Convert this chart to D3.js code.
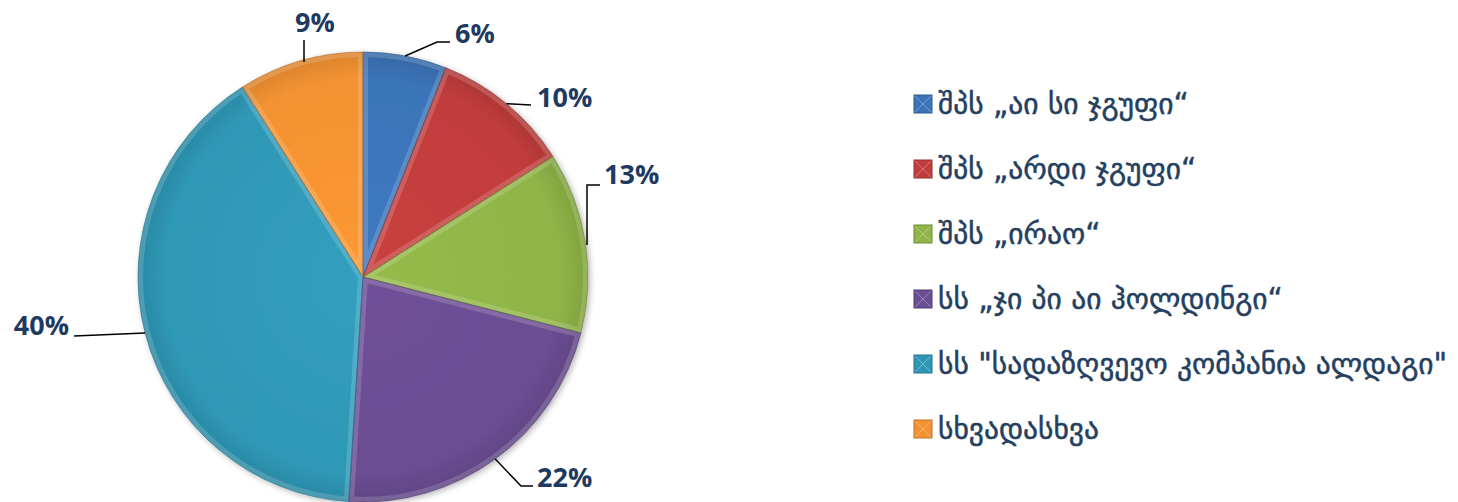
<!DOCTYPE html>
<html>
<head>
<meta charset="utf-8">
<script src="https://cdn.jsdelivr.net/npm/d3@7"></script>
<style>
  body { margin: 0; background: #fff; }
</style>
</head>
<body>
<div id="chart"></div>
<script>
// data
const categories = [
  "შპს „აი სი ჯგუფი“",
  "შპს „არდი ჯგუფი“",
  "შპს „ირაო“",
  "სს „ჯი პი აი ჰოლდინგი“",
  "სს \"სადაზღვევო კომპანია ალდაგი\"",
  "სხვადასხვა"
];
const shares = [6, 10, 13, 22, 40, 9];
const colors = ["#3b74b9", "#c13d3b", "#8fb447", "#6b4d93", "#2f98b6", "#f39232"];

// label placement (text position, elbow and line end), layout only
const labelLayout = [
  {tx: 455, ty: 43, anchor: "start", pts: [[437, 42], [450, 42]]},
  {tx: 537, ty: 107, anchor: "start", pts: [[531, 105]]},
  {tx: 604, ty: 184, anchor: "start", pts: [[587, 185], [600, 185]], from: [587, 245]},
  {tx: 537, ty: 487, anchor: "start", pts: [[521, 486], [533, 486]]},
  {tx: 69, ty: 335, anchor: "end", pts: [[74, 336]]},
  {tx: 315, ty: 32, anchor: "middle", pts: [[304, 40]], from: [304, 62]}
];

const W = 1458, H = 502;
const cx = 363, cy = 277, r = 225;

const svg = d3.select("#chart").append("svg")
  .attr("width", W).attr("height", H);

const defs = svg.append("defs");

const f = defs.append("filter").attr("id", "shadow")
  .attr("x", "-10%").attr("y", "-10%").attr("width", "120%").attr("height", "120%");
f.append("feGaussianBlur").attr("in", "SourceAlpha").attr("stdDeviation", 3);
f.append("feOffset").attr("dx", 2).attr("dy", 2).attr("result", "b");
f.append("feComponentTransfer").append("feFuncA").attr("type", "linear").attr("slope", 0.3);
const fm = f.append("feMerge");
fm.append("feMergeNode");
fm.append("feMergeNode").attr("in", "SourceGraphic");

const pie = d3.pie().sort(null).value(d => d)(shares);
const arc = d3.arc().innerRadius(0).outerRadius(r);

const g = svg.append("g").attr("transform", `translate(${cx},${cy})`);

// gradients per slice
colors.forEach((c, i) => {
  const gr = defs.append("radialGradient").attr("id", "grad" + i)
    .attr("gradientUnits", "userSpaceOnUse")
    .attr("cx", 0).attr("cy", 0).attr("r", r);
  gr.append("stop").attr("offset", "0%").attr("stop-color", d3.color(c).brighter(0.12));
  gr.append("stop").attr("offset", "88%").attr("stop-color", c);
  gr.append("stop").attr("offset", "100%").attr("stop-color", d3.color(c).darker(0.3));
  defs.append("clipPath").attr("id", "clip" + i)
    .append("path").attr("d", arc(pie[i]));
});

const slices = g.append("g").attr("filter", "url(#shadow)");

slices.selectAll("path.slice")
  .data(pie)
  .join("path")
  .attr("class", "slice")
  .attr("d", arc)
  .attr("fill", (d, i) => `url(#grad${i})`);

// bevel highlight inside each slice
g.selectAll("path.bevel")
  .data(pie)
  .join("path")
  .attr("class", "bevel")
  .attr("d", arc)
  .attr("clip-path", (d, i) => `url(#clip${i})`)
  .attr("fill", "none")
  .attr("stroke", "#fff")
  .attr("stroke-opacity", 0.16)
  .attr("stroke-width", 10);

g.selectAll("path.edge")
  .data(pie)
  .join("path")
  .attr("class", "edge")
  .attr("d", arc)
  .attr("fill", "none")
  .attr("stroke", (d, i) => d3.color(colors[i]).darker(0.8))
  .attr("stroke-opacity", 0.6)
  .attr("stroke-width", 1);

// labels and leader lines
const labels = svg.append("g");
pie.forEach((d, i) => {
  const L = labelLayout[i];
  const mid = (d.startAngle + d.endAngle) / 2;
  const start = L.from || [cx + r * Math.sin(mid), cy - r * Math.cos(mid)];
  labels.append("path")
    .attr("d", d3.line()([start].concat(L.pts)))
    .attr("fill", "none")
    .attr("stroke", "#000")
    .attr("stroke-width", 1.5);
  labels.append("text")
    .attr("x", L.tx).attr("y", L.ty)
    .attr("text-anchor", L.anchor)
    .style("font-family", "'Open Sans', sans-serif")
    .style("font-weight", "bold")
    .style("font-size", "27px")
    .style("fill", "#1f3a60")
    .text(d.data + "%");
});

// legend
const legend = svg.append("g").attr("transform", "translate(914,95)");
const rows = legend.selectAll("g")
  .data(categories)
  .join("g")
  .attr("transform", (d, i) => `translate(0,${i * 65})`);

rows.append("rect")
  .attr("width", 18).attr("height", 18)
  .attr("fill", (d, i) => colors[i])
  .attr("stroke", (d, i) => d3.color(colors[i]).darker(0.7))
  .attr("stroke-width", 1);
rows.append("path")
  .attr("d", "M1,1L17,17M17,1L1,17")
  .attr("stroke", "#fff")
  .attr("stroke-opacity", 0.3)
  .attr("stroke-width", 1);

rows.append("text")
  .attr("x", 24).attr("y", 9)
  .attr("dy", "0.35em")
  .style("font-family", "'DejaVu Sans', sans-serif")
  .style("font-size", "29.5px")
  .style("fill", "#243f60")
  .style("stroke", "#243f60")
  .style("stroke-width", 0.5)
  .text(d => d);
</script>
</body>
</html>
